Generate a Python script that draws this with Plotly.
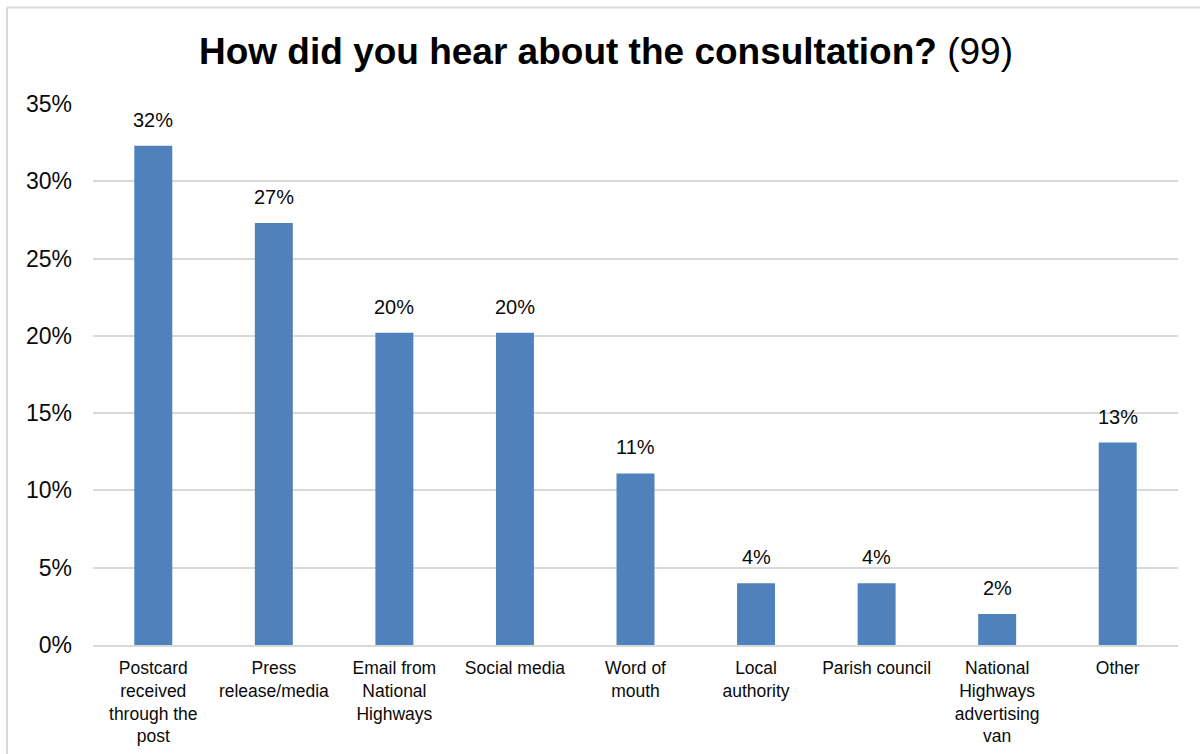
import plotly.graph_objects as go

# Survey responses (n = 99)
categories = [
    "Postcard<br>received<br>through the<br>post",
    "Press<br>release/media",
    "Email from<br>National<br>Highways",
    "Social media",
    "Word of<br>mouth",
    "Local<br>authority",
    "Parish council",
    "National<br>Highways<br>advertising<br>van",
    "Other",
]
shares = [0.323, 0.273, 0.202, 0.202, 0.111, 0.040, 0.040, 0.020, 0.131]
y_ticks = [0, 0.05, 0.10, 0.15, 0.20, 0.25, 0.30, 0.35]

FONT = "Liberation Sans, Arial, sans-serif"
BAR = "#4F81BD"
GRID = "#D9D9D9"
INK = "#0a0a0a"

fig = go.Figure()
fig.add_trace(
    go.Bar(
        x=categories,
        y=shares,
        marker=dict(color=BAR, line=dict(width=0)),
        hoverinfo="x+y",
    )
)

# value labels above each bar
for cat, val in zip(categories, shares):
    fig.add_annotation(
        x=cat,
        y=val,
        text=f"{val:.0%}",
        showarrow=False,
        yanchor="bottom",
        yshift=13,
        font=dict(family=FONT, size=20, color=INK),
    )

L, R, T, B = 93, 22, 104, 109
W, H = 1200, 754
pw, ph = W - L - R, H - T - B

# light frame around the whole chart
fig.add_shape(
    type="line", xref="paper", yref="paper",
    x0=(7 - L) / pw, x1=(W + 5 - L) / pw,
    y0=1 + (T - 7.5) / ph, y1=1 + (T - 7.5) / ph,
    line=dict(color=GRID, width=2),
)
fig.add_shape(
    type="line", xref="paper", yref="paper",
    x0=(7 - L) / pw, x1=(7 - L) / pw,
    y0=1 + (T - 7.5) / ph, y1=-(B + 5) / ph,
    line=dict(color=GRID, width=2),
)

fig.update_layout(
    width=W,
    height=H,
    margin=dict(l=L, r=R, t=T, b=B, autoexpand=False),
    paper_bgcolor="white",
    plot_bgcolor="white",
    bargap=0.685,
    showlegend=False,
    title=dict(
        text="<b>How did you hear about the consultation?</b> (99)",
        x=606 / W,
        xref="container",
        xanchor="center",
        y=1 - 51 / H,
        yanchor="middle",
        font=dict(family=FONT, size=37, color="#000000"),
    ),
    xaxis=dict(
        automargin=False,
        showgrid=False,
        showline=True,
        linecolor=GRID,
        linewidth=2,
        ticks="",
        tickfont=dict(family=FONT, size=17.5, color=INK),
        tickangle=0,
        ticklabelstandoff=6,
    ),
    yaxis=dict(
        automargin=False,
        range=[0, 0.35],
        tickvals=y_ticks,
        tickformat=".0%",
        showgrid=True,
        gridcolor=GRID,
        gridwidth=2,
        zeroline=False,
        showline=False,
        ticks="",
        tickfont=dict(family=FONT, size=23, color=INK),
        ticklabelstandoff=20,
    ),
)

fig.write_html("out.html")
